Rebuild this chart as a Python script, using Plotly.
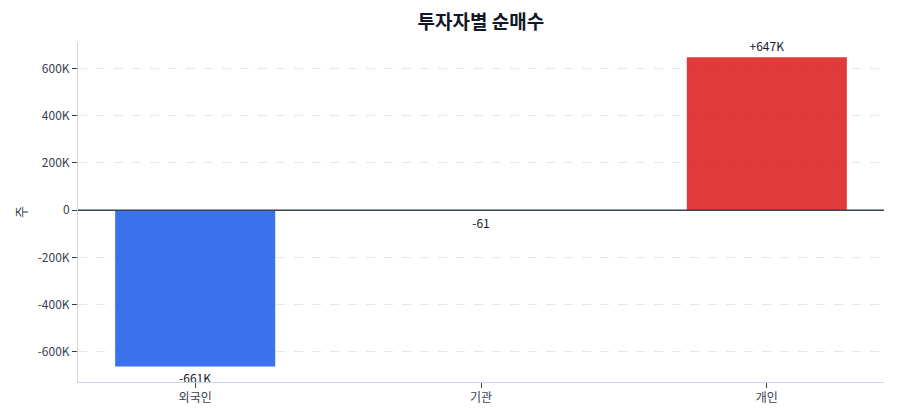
import plotly.graph_objects as go

investors = ["외국인", "기관", "개인"]
net_buy = [-661000, -61, 647000]
labels = ["-661K", "-61", "+647K"]
bar_colors = ["#2563eb", "#2563eb", "#dc2626"]

INK = "#111827"
TICK = "#374151"
FONT = "Noto Sans CJK KR, Noto Sans, sans-serif"

fig = go.Figure(
    go.Bar(
        x=investors,
        y=net_buy,
        text=labels,
        textposition="outside",
        textfont=dict(size=12, color=INK),
        marker=dict(color=bar_colors, opacity=0.9, line=dict(width=0)),
        width=0.56,
        cliponaxis=False,
        showlegend=False,
    )
)

# zero reference drawn over the bars
fig.add_hline(y=0, line=dict(color="#374151", width=1.5), layer="above")

y_lo = min(net_buy) * 1.1
y_hi = max(net_buy) * 1.1

fig.update_xaxes(
    range=[-0.41, 2.41],
    showline=True,
    linecolor="#cbd5e1",
    linewidth=1,
    ticks="outside",
    ticklen=5,
    tickcolor=TICK,
    tickfont=dict(size=12, color=TICK),
    showgrid=False,
)
fig.update_yaxes(
    title=dict(text="주", font=dict(size=13, color=TICK), standoff=8),
    range=[y_lo, y_hi],
    tickvals=[-600000, -400000, -200000, 0, 200000, 400000, 600000],
    ticktext=["-600K", "-400K", "-200K", "0", "200K", "400K", "600K"],
    showline=True,
    linecolor="#d1d5db",
    linewidth=1,
    ticks="outside",
    ticklen=5,
    tickcolor=TICK,
    tickfont=dict(size=12, color=TICK),
    showgrid=True,
    gridcolor="#e5e7eb",
    griddash="dash",
    zeroline=False,
)

fig.update_layout(
    title=dict(
        text="<b>투자자별 순매수</b>",
        x=0.535,
        xanchor="center",
        y=0.965,
        yanchor="middle",
        font=dict(size=19, color=INK),
    ),
    margin=dict(l=70, r=8, t=34, b=30),
    plot_bgcolor="#ffffff",
    paper_bgcolor="#ffffff",
    font=dict(family=FONT, size=12, color=INK),
)

fig.write_html("out.html")
